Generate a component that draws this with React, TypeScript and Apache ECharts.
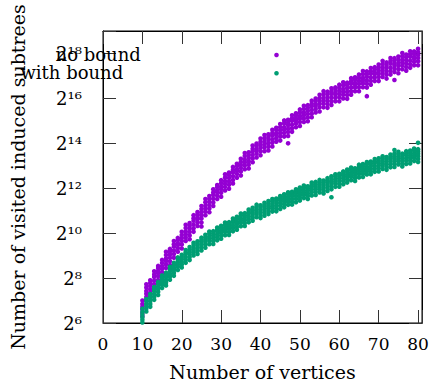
import React, { useEffect, useRef } from "react";
import * as echarts from "echarts";

const FONT = "DejaVu Serif, Liberation Serif, serif";

const vertices = [
  10, 11, 12, 13, 14, 15, 16, 17, 18, 19, 20, 21, 22, 23, 24, 25, 26, 27, 28, 29,
  30, 31, 32, 33, 34, 35, 36, 37, 38, 39, 40, 41, 42, 43, 44, 45, 46, 47, 48, 49,
  50, 51, 52, 53, 54, 55, 56, 57, 58, 59, 60, 61, 62, 63, 64, 65, 66, 67, 68, 69,
  70, 71, 72, 73, 74, 75, 76, 77, 78, 79, 80,
];

// log2 of the number of visited induced subtrees, several runs per vertex count
const noBound: number[][] = [
  [6.3, 6.45, 6.6, 6.72, 6.85, 7.0],
  [7.0, 7.16, 7.3, 7.42, 7.58, 7.72],
  [7.18, 7.35, 7.5, 7.65, 7.78, 7.9],
  [7.56, 7.72, 7.88, 8.05, 8.16, 8.3],
  [7.92, 8.08, 8.22, 8.3, 8.44, 8.54],
  [8.07, 8.25, 8.4, 8.53, 8.67, 8.81],
  [8.45, 8.61, 8.75, 8.87, 9.03, 9.17],
  [8.58, 8.75, 8.9, 9.05, 9.18, 9.3],
  [8.91, 9.07, 9.23, 9.4, 9.51, 9.65],
  [9.17, 9.33, 9.47, 9.55, 9.69, 9.79],
  [9.32, 9.5, 9.65, 9.78, 9.92, 10.06],
  [9.65, 9.81, 9.95, 10.07, 10.23, 10.37],
  [9.73, 9.9, 10.05, 10.2, 10.33, 10.45],
  [10.06, 10.22, 10.38, 10.55, 10.66, 10.8],
  [10.32, 10.48, 10.62, 10.7, 10.84, 10.94],
  [10.3, 10.47, 10.65, 10.8, 10.93, 11.07, 11.21],
  [10.8, 10.96, 11.1, 11.22, 11.38, 11.52],
  [10.93, 11.1, 11.25, 11.4, 11.53, 11.65],
  [11.21, 11.37, 11.53, 11.7, 11.81, 11.95],
  [11.52, 11.68, 11.82, 11.9, 12.04, 12.14],
  [11.62, 11.8, 11.95, 12.08, 12.22, 12.36],
  [11.9, 12.06, 12.2, 12.32, 12.48, 12.62],
  [11.98, 12.15, 12.3, 12.45, 12.58, 12.7],
  [12.21, 12.37, 12.53, 12.7, 12.81, 12.95],
  [12.47, 12.63, 12.77, 12.85, 12.99, 13.09],
  [12.57, 12.75, 12.9, 13.03, 13.17, 13.31],
  [12.85, 13.01, 13.15, 13.27, 13.43, 13.57],
  [12.88, 13.05, 13.2, 13.35, 13.48, 13.6],
  [13.16, 13.32, 13.48, 13.65, 13.76, 13.9],
  [13.37, 13.53, 13.67, 13.75, 13.89, 13.99],
  [13.47, 13.65, 13.8, 13.93, 14.07, 14.21],
  [13.65, 13.81, 13.95, 14.07, 14.23, 14.37],
  [13.68, 13.85, 14.0, 14.15, 14.28, 14.4],
  [13.86, 14.02, 14.18, 14.35, 14.46, 14.6],
  [14.07, 14.23, 14.37, 14.45, 14.59, 14.69],
  [14.12, 14.3, 14.45, 14.58, 14.72, 14.86],
  [14.3, 14.46, 14.6, 14.72, 14.88, 15.02],
  [14.0, 14.33, 14.5, 14.65, 14.8, 14.93, 15.05],
  [14.51, 14.67, 14.83, 15.0, 15.11, 15.25],
  [14.72, 14.88, 15.02, 15.1, 15.24, 15.34],
  [14.77, 14.95, 15.1, 15.23, 15.37, 15.51],
  [14.95, 15.11, 15.25, 15.37, 15.53, 15.67],
  [14.98, 15.15, 15.3, 15.45, 15.58, 15.7],
  [15.16, 15.32, 15.48, 15.65, 15.76, 15.9],
  [15.37, 15.53, 15.67, 15.75, 15.89, 15.99],
  [15.42, 15.6, 15.75, 15.88, 16.02, 16.16],
  [15.6, 15.76, 15.9, 16.02, 16.18, 16.32],
  [15.58, 15.75, 15.9, 16.05, 16.18, 16.3],
  [15.71, 15.87, 16.03, 16.2, 16.31, 16.45],
  [15.87, 16.03, 16.17, 16.25, 16.39, 16.49],
  [15.87, 16.05, 16.2, 16.33, 16.47, 16.61],
  [16.0, 16.16, 16.3, 16.42, 16.58, 16.72],
  [15.98, 16.15, 16.3, 16.45, 16.58, 16.7],
  [16.16, 16.32, 16.48, 16.65, 16.76, 16.9],
  [16.32, 16.48, 16.62, 16.7, 16.84, 16.94],
  [16.32, 16.5, 16.65, 16.78, 16.92, 17.06],
  [16.5, 16.66, 16.8, 16.92, 17.08, 17.22],
  [16.1, 16.48, 16.65, 16.8, 16.95, 17.08, 17.2],
  [16.61, 16.77, 16.93, 17.1, 17.21, 17.35],
  [16.77, 16.93, 17.07, 17.15, 17.29, 17.39],
  [16.77, 16.95, 17.1, 17.23, 17.37, 17.51],
  [16.95, 17.11, 17.25, 17.37, 17.53, 17.67],
  [16.88, 17.05, 17.2, 17.35, 17.48, 17.6],
  [17.06, 17.22, 17.38, 17.55, 17.66, 17.8],
  [16.82, 17.17, 17.33, 17.47, 17.55, 17.69, 17.79],
  [17.12, 17.3, 17.45, 17.58, 17.72, 17.86],
  [17.3, 17.46, 17.6, 17.72, 17.88, 18.02],
  [17.23, 17.4, 17.55, 17.7, 17.83, 17.95],
  [17.36, 17.52, 17.68, 17.85, 17.96, 18.1],
  [17.47, 17.63, 17.77, 17.85, 17.99, 18.09],
  [17.47, 17.65, 17.8, 17.93, 18.07, 18.21],
];

const withBound: number[][] = [
  [6.02, 6.14, 6.26, 6.38, 6.5, 6.64],
  [6.51, 6.65, 6.75, 6.85, 6.97, 7.07],
  [6.72, 6.85, 6.97, 7.09, 7.19, 7.29],
  [7.03, 7.17, 7.29, 7.42, 7.5, 7.6],
  [7.25, 7.39, 7.51, 7.61, 7.72, 7.83],
  [7.56, 7.7, 7.8, 7.9, 8.02, 8.12],
  [7.67, 7.8, 7.92, 8.04, 8.14, 8.24],
  [7.93, 8.07, 8.19, 8.32, 8.4, 8.5],
  [8.1, 8.24, 8.36, 8.46, 8.57, 8.68],
  [8.36, 8.5, 8.6, 8.7, 8.82, 8.92],
  [8.47, 8.6, 8.72, 8.84, 8.94, 9.04],
  [8.68, 8.82, 8.94, 9.07, 9.15, 9.25],
  [8.8, 8.94, 9.06, 9.16, 9.27, 9.38],
  [9.01, 9.15, 9.25, 9.35, 9.47, 9.57],
  [9.07, 9.2, 9.32, 9.44, 9.54, 9.64],
  [9.23, 9.37, 9.49, 9.62, 9.7, 9.8],
  [9.35, 9.49, 9.61, 9.71, 9.82, 9.93],
  [9.51, 9.65, 9.75, 9.85, 9.97, 10.07],
  [9.52, 9.65, 9.77, 9.89, 9.99, 10.09],
  [9.68, 9.82, 9.94, 10.07, 10.15, 10.25],
  [9.75, 9.89, 10.01, 10.11, 10.22, 10.33],
  [9.91, 10.05, 10.15, 10.25, 10.37, 10.47],
  [9.92, 10.05, 10.17, 10.29, 10.39, 10.49],
  [10.08, 10.22, 10.34, 10.47, 10.55, 10.65],
  [10.15, 10.29, 10.41, 10.51, 10.62, 10.73],
  [10.31, 10.45, 10.55, 10.65, 10.77, 10.87],
  [10.32, 10.45, 10.57, 10.69, 10.79, 10.89],
  [10.48, 10.62, 10.74, 10.87, 10.95, 11.05],
  [10.55, 10.69, 10.81, 10.91, 11.02, 11.13],
  [10.71, 10.85, 10.95, 11.05, 11.17, 11.27],
  [10.67, 10.8, 10.92, 11.04, 11.14, 11.24],
  [10.78, 10.92, 11.04, 11.17, 11.25, 11.35],
  [10.85, 10.99, 11.11, 11.21, 11.32, 11.43],
  [10.96, 11.1, 11.2, 11.3, 11.42, 11.52],
  [10.97, 11.1, 11.22, 11.34, 11.44, 11.54],
  [11.08, 11.22, 11.34, 11.47, 11.55, 11.65],
  [11.15, 11.29, 11.41, 11.51, 11.62, 11.73],
  [11.26, 11.4, 11.5, 11.6, 11.72, 11.82],
  [11.27, 11.4, 11.52, 11.64, 11.74, 11.84],
  [11.38, 11.52, 11.64, 11.77, 11.85, 11.95],
  [11.45, 11.59, 11.71, 11.81, 11.92, 12.03],
  [11.56, 11.7, 11.8, 11.9, 12.02, 12.12],
  [11.52, 11.65, 11.77, 11.89, 11.99, 12.09],
  [11.68, 11.82, 11.94, 12.07, 12.15, 12.25],
  [11.7, 11.84, 11.96, 12.06, 12.17, 12.28],
  [11.81, 11.95, 12.05, 12.15, 12.27, 12.37],
  [11.77, 11.9, 12.02, 12.14, 12.24, 12.34],
  [11.88, 12.02, 12.14, 12.27, 12.35, 12.45],
  [11.6, 11.95, 12.09, 12.21, 12.31, 12.42, 12.53],
  [12.06, 12.2, 12.3, 12.4, 12.52, 12.62],
  [12.07, 12.2, 12.32, 12.44, 12.54, 12.64],
  [12.18, 12.32, 12.44, 12.57, 12.65, 12.75],
  [12.25, 12.39, 12.51, 12.61, 12.72, 12.83],
  [12.36, 12.5, 12.6, 12.7, 12.82, 12.92],
  [12.32, 12.45, 12.57, 12.69, 12.79, 12.89],
  [12.48, 12.62, 12.74, 12.87, 12.95, 13.05],
  [12.5, 12.64, 12.76, 12.86, 12.97, 13.08],
  [12.61, 12.75, 12.85, 12.95, 13.07, 13.17],
  [12.62, 12.75, 12.87, 12.99, 13.09, 13.19],
  [12.73, 12.87, 12.99, 13.12, 13.2, 13.3],
  [12.75, 12.89, 13.01, 13.11, 13.22, 13.33],
  [12.86, 13.0, 13.1, 13.2, 13.32, 13.42],
  [12.82, 12.95, 13.07, 13.19, 13.29, 13.39],
  [12.93, 13.07, 13.19, 13.32, 13.4, 13.5],
  [12.95, 13.09, 13.21, 13.31, 13.42, 13.53, 13.7],
  [13.06, 13.2, 13.3, 13.4, 13.52, 13.62],
  [12.97, 13.1, 13.22, 13.34, 13.44, 13.54],
  [13.08, 13.22, 13.34, 13.47, 13.55, 13.65],
  [13.1, 13.24, 13.36, 13.46, 13.57, 13.68],
  [13.21, 13.35, 13.45, 13.55, 13.67, 13.77],
  [13.17, 13.3, 13.42, 13.54, 13.64, 13.74, 14.02],
];

const xTickValues = [0, 10, 20, 30, 40, 50, 60, 70, 80];
const yTickExponents = [6, 8, 10, 12, 14, 16, 18];
const yTickLabels = ["2⁶", "2⁸", "2¹⁰", "2¹²", "2¹⁴", "2¹⁶", "2¹⁸"];
const seriesNames = ["no bound", "with bound"];
const seriesColors = ["#9400d3", "#009e73"];

function toPoints(cols: number[][]): [number, number][] {
  const pts: [number, number][] = [];
  cols.forEach((col, i) => col.forEach((v) => pts.push([vertices[i], v])));
  return pts;
}

export default function App() {
  const ref = useRef<HTMLDivElement>(null);

  useEffect(() => {
    document.body.style.margin = "0";
    if (!ref.current) return;
    const chart = echarts.init(ref.current, undefined, { renderer: "svg" });

    const line = { show: true, onZero: false, lineStyle: { color: "#000", width: 1 } };
    const tick = { show: true, inside: true, length: 13, lineStyle: { color: "#333", width: 1 } };

    chart.setOption({
      animation: false,
      grid: { left: 103, right: 10, top: 31, bottom: 55, show: true, borderColor: "#000", borderWidth: 1 },
      title: [
        {
          text: seriesNames[0],
          right: 206,
          top: 45,
          padding: 0,
          textAlign: "right",
          textStyle: { fontFamily: FONT, fontSize: 18, fontWeight: "normal", color: "#000" },
        },
        {
          text: seriesNames[1],
          right: 206,
          top: 63.5,
          padding: 0,
          textAlign: "right",
          textStyle: { fontFamily: FONT, fontSize: 18, fontWeight: "normal", color: "#000" },
        },
      ],
      xAxis: [
        {
          type: "value",
          min: 0,
          max: 81,
          interval: 10,
          position: "bottom",
          splitLine: { show: false },
          axisLine: line,
          axisTick: tick,
          name: "Number of vertices",
          nameLocation: "middle",
          nameGap: 39,
          nameTextStyle: { fontFamily: FONT, fontSize: 19, color: "#000" },
          axisLabel: {
            margin: 12,
            fontFamily: FONT,
            fontSize: 17,
            color: "#000",
            formatter: (v: number) => (xTickValues.includes(v) ? String(v) : ""),
          },
        },
        {
          type: "value",
          min: 0,
          max: 81,
          interval: 10,
          position: "top",
          splitLine: { show: false },
          axisLine: line,
          axisTick: tick,
          axisLabel: { show: false },
        },
      ],
      yAxis: [
        {
          type: "value",
          min: 6,
          max: 19,
          interval: 2,
          position: "left",
          splitLine: { show: false },
          axisLine: line,
          axisTick: tick,
          name: "Number of visited induced subtrees",
          nameLocation: "middle",
          nameGap: 76,
          nameTextStyle: { fontFamily: FONT, fontSize: 19, color: "#000" },
          axisLabel: {
            margin: 21,
            fontFamily: FONT,
            fontSize: 18,
            color: "#000",
            padding: [6, 0, 0, 0],
            formatter: (v: number) => {
              const i = yTickExponents.indexOf(v);
              return i >= 0 ? yTickLabels[i] : "";
            },
          },
        },
        {
          type: "value",
          min: 6,
          max: 19,
          interval: 2,
          position: "right",
          splitLine: { show: false },
          axisLine: line,
          axisTick: tick,
          axisLabel: { show: false },
        },
      ],
      graphic: [
        { type: "circle", shape: { cx: 276.5, cy: 55, r: 2.3 }, style: { fill: seriesColors[0] } },
        { type: "circle", shape: { cx: 276.5, cy: 73.3, r: 2.3 }, style: { fill: seriesColors[1] } },
      ],
      series: [
        {
          name: seriesNames[0],
          type: "scatter",
          xAxisIndex: 0,
          yAxisIndex: 0,
          symbol: "circle",
          symbolSize: 4.6,
          itemStyle: { color: seriesColors[0], opacity: 1 },
          data: toPoints(noBound),
        },
        {
          name: seriesNames[1],
          type: "scatter",
          xAxisIndex: 0,
          yAxisIndex: 0,
          symbol: "circle",
          symbolSize: 4.6,
          itemStyle: { color: seriesColors[1], opacity: 1 },
          data: toPoints(withBound),
        },
      ],
    });

    return () => chart.dispose();
  }, []);

  return <div ref={ref} style={{ width: 432, height: 386 }} />;
}
